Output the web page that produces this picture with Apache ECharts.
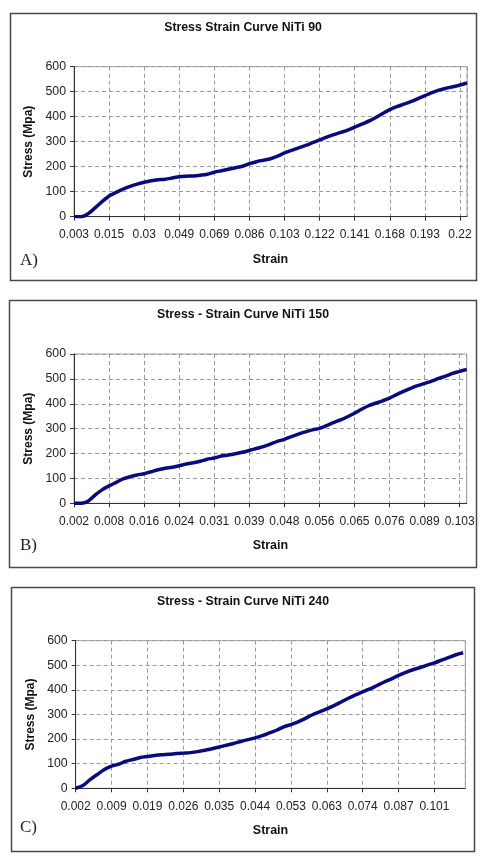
<!DOCTYPE html>
<html>
<head>
<meta charset="utf-8">
<script src="https://cdn.jsdelivr.net/npm/echarts@6/dist/echarts.min.js"></script>
<style>
html,body{margin:0;padding:0;background:#fff;}
#chart{width:480px;height:868px;}
</style>
</head>
<body>
<div id="chart"></div>
<script>
// ---- data ----
const titles = ['Stress Strain Curve NiTi 90', 'Stress - Strain Curve NiTi 150', 'Stress - Strain Curve NiTi 240'];
const panelLabels = ['A)', 'B)', 'C)'];
const tickLabelsA = ['0.003','0.015','0.03','0.049','0.069','0.086','0.103','0.122','0.141','0.168','0.193','0.22'];
const tickLabelsB = ['0.002','0.008','0.016','0.024','0.031','0.039','0.048','0.056','0.065','0.076','0.089','0.103'];
const tickLabelsC = ['0.002','0.009','0.019','0.026','0.035','0.044','0.053','0.063','0.074','0.087','0.101'];
// stress (MPa) sampled every 1/5 of a labelled tick interval
const stressA = [0,0,12,35,60,83,97,110,121,130,138,144,148,150,155,160,162,163,166,170,178,184,190,196,202,212,220,226,232,242,255,265,275,285,296,307,318,328,337,346,358,370,382,397,413,428,440,450,460,472,484,496,506,514,520,527,535];
const stressB = [0,0,8,33,54,70,84,98,107,114,119,127,135,141,145,151,158,163,169,177,182,190,194,199,205,212,220,228,238,249,257,268,278,287,295,301,312,324,335,348,362,378,392,402,412,423,437,450,462,473,482,491,502,511,522,530,538];
const stressC = [0,11,35,56,76,90,98,110,117,125,129,133,136,138,141,143,145,149,155,161,168,175,182,190,198,205,214,225,236,250,259,270,284,299,311,323,336,351,366,380,392,404,418,432,445,459,471,482,491,501,510,521,532,543,551];
const samplesPerTick = 5;
const xExtent = [11.2, 11.2, 10.86];
const yTicks = [0, 600, 100];

const tickSets = [tickLabelsA, tickLabelsB, tickLabelsC];
const stressSets = [stressA, stressB, stressC];

// ---- layout ----
const grids = [
  {left: 74, top: 66.7, width: 393, height: 150},
  {left: 74, top: 354, width: 392.7, height: 149.3},
  {left: 75.7, top: 640.7, width: 389.6, height: 147.6}
];
const boxes = [
  {x: 10.5, y: 13.5, w: 466, h: 267},
  {x: 9.5, y: 300.5, w: 467, h: 267},
  {x: 11.5, y: 587.5, w: 463, h: 264}
];
const titleTops = [22, 309, 596];
const letterY = [260, 545, 827];

const FONT = '"Liberation Sans", Arial, sans-serif';
const chart = echarts.init(document.getElementById('chart'), null, {renderer: 'canvas'});

const option = {
  backgroundColor: '#fff',
  animation: false,
  title: titles.map((t, i) => ({
    text: t, left: 243, top: titleTops[i], textAlign: 'center', padding: 0,
    textStyle: {fontFamily: FONT, fontSize: 12.3, fontWeight: 'bold', color: '#111'}
  })),
  grid: grids.map(g => Object.assign({show: true, borderColor: '#a0a0a0', borderWidth: 1, backgroundColor: 'transparent'}, g)),
  xAxis: tickSets.map((labels, i) => ({
    type: 'value', gridIndex: i, min: 0, max: xExtent[i], interval: 1,
    name: 'Strain', nameLocation: 'middle', nameGap: 36,
    nameTextStyle: {fontFamily: FONT, fontSize: 12.5, fontWeight: 'bold', color: '#111'},
    axisLine: {show: true, onZero: false, lineStyle: {color: '#333', width: 1}},
    axisTick: {show: true, inside: false, length: 4, lineStyle: {color: '#333'}},
    axisLabel: {
      show: true, margin: 12, showMaxLabel: false, showMinLabel: true,
      fontFamily: FONT, fontSize: 12, color: '#222',
      formatter: v => (Math.abs(v - Math.round(v)) < 1e-6 && labels[Math.round(v)] !== undefined) ? labels[Math.round(v)] : ''
    },
    splitLine: {show: true, lineStyle: {color: '#9a9a9a', type: [4, 3], width: 1}}
  })),
  yAxis: tickSets.map((_, i) => ({
    type: 'value', gridIndex: i, min: yTicks[0], max: yTicks[1], interval: yTicks[2],
    name: 'Stress (Mpa)', nameLocation: 'middle', nameGap: 34, nameRotate: 90,
    nameTextStyle: {fontFamily: FONT, fontSize: 12, fontWeight: 'bold', color: '#111'},
    axisLine: {show: true, lineStyle: {color: '#333', width: 1}},
    axisTick: {show: true, inside: false, length: 4, lineStyle: {color: '#333'}},
    axisLabel: {margin: 8, fontFamily: FONT, fontSize: 12.3, color: '#222'},
    splitLine: {show: true, lineStyle: {color: '#9a9a9a', type: [4, 3], width: 1}}
  })),
  series: stressSets.map((vals, i) => ({
    type: 'line', xAxisIndex: i, yAxisIndex: i, showSymbol: false, smooth: 0.3,
    lineStyle: {color: '#0a0a80', width: 3.5},
    data: vals.map((v, k) => [k / samplesPerTick, v])
  })),
  graphic: boxes.map(b => ({
    type: 'rect', silent: true, z: -1,
    shape: {x: b.x, y: b.y, width: b.w, height: b.h},
    style: {fill: 'none', stroke: '#4a4a4a', lineWidth: 1.5}
  })).concat(panelLabels.map((t, i) => ({
    type: 'text', silent: true, left: 20, top: letterY[i] - 8,
    style: {text: t, font: '17px "Liberation Serif", "Times New Roman", serif', fill: '#222'}
  })))
};
chart.setOption(option);
</script>
</body>
</html>
